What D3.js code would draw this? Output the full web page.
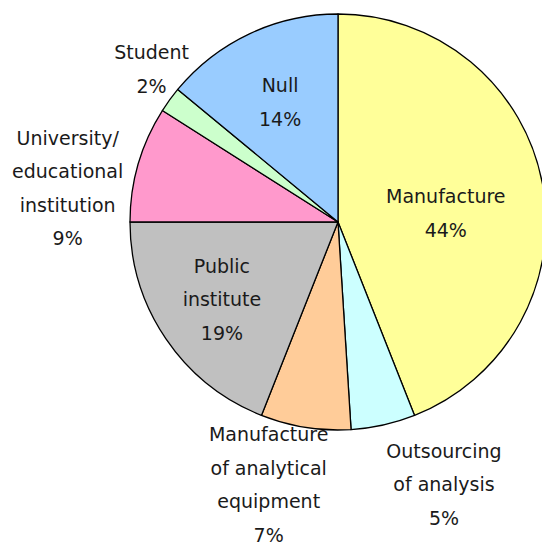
<!DOCTYPE html>
<html>
<head>
<meta charset="utf-8">
<script src="https://cdn.jsdelivr.net/npm/d3@7"></script>
<style>
  html, body { margin: 0; padding: 0; background: #fff; }
  svg { display: block; }
  text { font-family: Verdana, "DejaVu Sans", sans-serif; font-size: 19px; fill: #1a1a1a; }
</style>
</head>
<body>
<svg id="chart" width="542" height="546"></svg>
<script>
// Respondent categories, clockwise from 12 o'clock
const categories = [
  "Manufacture",
  "Outsourcing of analysis",
  "Manufacture of analytical equipment",
  "Public institute",
  "University/ educational institution",
  "Student",
  "Null"
];
const shares = [44, 5, 7, 19, 9, 2, 14];
// Wrapped label lines for each category
const labelLines = [
  ["Manufacture"],
  ["Outsourcing", "of analysis"],
  ["Manufacture", "of analytical", "equipment"],
  ["Public", "institute"],
  ["University/", "educational", "institution"],
  ["Student"],
  ["Null"]
];
const colors = ["#FFFF99", "#CCFFFF", "#FFCC99", "#C0C0C0", "#FF99CC", "#CCFFCC", "#99CCFF"];

// Label placement: radius as a fraction of the pie radius, and angular nudge in degrees
const labelRadius = [0.52, 1.36, 1.305, 0.67, 1.31, 1.16, 0.64];
const labelNudge  = [6, -9.4, 5.8, 0.6, -9, 3.4, -0.6];

const svg = d3.select("#chart");
const cx = 338, cy = 222, r = 208;
const lineH = 33.5;

const pie = d3.pie().sort(null).value(d => d)(shares);
const arc = d3.arc().innerRadius(0).outerRadius(r);

const g = svg.append("g").attr("transform", `translate(${cx},${cy})`);

g.selectAll("path.slice")
  .data(pie)
  .join("path")
  .attr("class", "slice")
  .attr("d", arc)
  .attr("fill", (d, i) => colors[i])
  .attr("stroke", "#000")
  .attr("stroke-width", 1.3)
  .attr("stroke-linejoin", "round");

const labels = g.selectAll("g.label")
  .data(pie)
  .join("g")
  .attr("class", "label")
  .attr("transform", (d, i) => {
    const a = (d.startAngle + d.endAngle) / 2 + labelNudge[i] * Math.PI / 180;
    const rr = r * labelRadius[i];
    return `translate(${rr * Math.sin(a)},${-rr * Math.cos(a)})`;
  });

labels.each(function(d, i) {
  const lines = labelLines[i].concat([d.data + "%"]);
  const n = lines.length;
  d3.select(this).selectAll("text")
    .data(lines)
    .join("text")
    .attr("text-anchor", "middle")
    .attr("dominant-baseline", "central")
    .attr("y", (t, k) => (k - (n - 1) / 2) * lineH)
    .text(t => t);
});
</script>
</body>
</html>
